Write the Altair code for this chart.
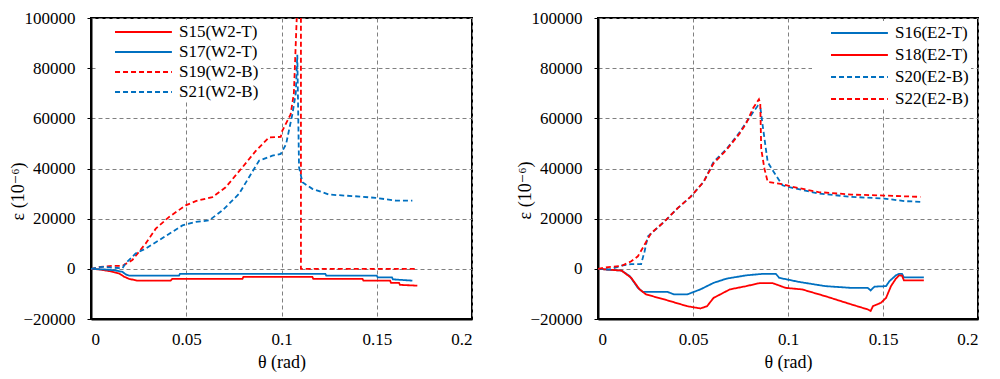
import altair as alt
import pandas as pd

# ---- Left panel (W2) ----
s15_theta = [0, 0.005, 0.0094, 0.0147, 0.0173, 0.020, 0.0243, 0.0418, 0.0427, 0.0795, 0.0800, 0.1162, 0.1167, 0.1425, 0.1430, 0.157, 0.1575, 0.1617, 0.1622, 0.1713]
s15_eps = [0, -300, -870, -1800, -3100, -4000, -4700, -4700, -4000, -4000, -3200, -3200, -4000, -4000, -4700, -4700, -5600, -5600, -6400, -6700]

s17_theta = [0, 0.008, 0.0125, 0.0165, 0.0182, 0.020, 0.0462, 0.0467, 0.123, 0.1235, 0.150, 0.1505, 0.158, 0.1585, 0.1687]
s17_eps = [0, -300, -600, -1200, -2200, -2700, -2700, -2000, -2000, -2700, -2700, -3400, -3400, -4200, -4700]

s19_theta = [0, 0.005, 0.011, 0.0165, 0.0217, 0.0287, 0.034, 0.041, 0.0497, 0.055, 0.0637, 0.0707, 0.0795, 0.0865, 0.0934, 0.0996, 0.1004, 0.1048, 0.1065, 0.1080, 0.1102, 0.1102, 0.1713]
s19_eps = [0, 800, 1200, 1200, 3500, 10100, 16000, 20700, 25300, 27000, 28600, 32500, 40500, 47000, 52400, 52600, 55000, 61600, 70000, 100000, 100000, 0, 0]

s21_theta = [0, 0.006, 0.0165, 0.0182, 0.0234, 0.0287, 0.0357, 0.048, 0.055, 0.062, 0.069, 0.0777, 0.0882, 0.0952, 0.0996, 0.1024, 0.1057, 0.1075, 0.1083, 0.1092, 0.1110, 0.1162, 0.125, 0.1375, 0.1495, 0.160, 0.1687]
s21_eps = [0, 800, 200, 2200, 6100, 8100, 11400, 17300, 18700, 19300, 23300, 29900, 43100, 45100, 45800, 49700, 61600, 70000, 85300, 40500, 34500, 31900, 29600, 29000, 28300, 27200, 27200]

# ---- Right panel (E2) ----
s16_theta = [0, 0.0124, 0.0167, 0.021, 0.0236, 0.0366, 0.040, 0.047, 0.0539, 0.0608, 0.0677, 0.078, 0.0867, 0.0936, 0.0954, 0.1057, 0.1196, 0.1334, 0.142, 0.1435, 0.1455, 0.1516, 0.1533, 0.1568, 0.1585, 0.160, 0.161, 0.1715]
s16_eps = [0, -700, -2900, -7600, -9200, -9200, -10200, -10200, -8200, -5600, -3900, -2600, -2000, -2000, -3600, -5200, -6900, -7600, -7600, -8600, -7100, -6900, -5000, -2600, -2000, -2000, -3400, -3400]

s18_theta = [0, 0.0124, 0.0175, 0.0219, 0.0253, 0.0349, 0.047, 0.0539, 0.0574, 0.0608, 0.0694, 0.078, 0.085, 0.0919, 0.0988, 0.1074, 0.1196, 0.1334, 0.142, 0.1435, 0.1447, 0.149, 0.1516, 0.1542, 0.1568, 0.1585, 0.160, 0.161, 0.1715]
s18_eps = [0, -700, -3600, -8200, -10200, -12200, -14900, -15800, -14900, -11600, -8200, -6900, -5700, -5700, -7600, -8200, -10900, -14200, -16200, -16800, -14900, -13500, -11600, -6900, -3900, -2600, -2700, -4600, -4600]

s20_theta = [0, 0.006, 0.0124, 0.0175, 0.0227, 0.0245, 0.0262, 0.0349, 0.0418, 0.0487, 0.0556, 0.0608, 0.0677, 0.0746, 0.0816, 0.0841, 0.0855, 0.0867, 0.0893, 0.0919, 0.0971, 0.1023, 0.1161, 0.1334, 0.1507, 0.1614, 0.1697]
s20_eps = [0, -300, 1300, 1900, 1900, 6900, 12900, 18800, 24100, 28700, 34700, 42600, 47800, 54500, 62400, 65000, 64000, 57000, 42600, 39300, 33300, 32300, 30000, 28700, 28000, 27000, 26700]

s22_theta = [0, 0.0054, 0.0124, 0.0175, 0.021, 0.0245, 0.0279, 0.0349, 0.0418, 0.0487, 0.0556, 0.0608, 0.0677, 0.0746, 0.078, 0.0816, 0.0847, 0.0854, 0.0859, 0.0876, 0.0893, 0.0971, 0.1023, 0.1161, 0.1334, 0.1507, 0.1697]
s22_eps = [0, 700, 1200, 3000, 5000, 9600, 14200, 18800, 24100, 28700, 34700, 42000, 47500, 54000, 58000, 64000, 67600, 66000, 47800, 39900, 34700, 33700, 32700, 30600, 29600, 29200, 28700]

left_names = ["S15(W2-T)", "S17(W2-T)", "S19(W2-B)", "S21(W2-B)"]
right_names = ["S16(E2-T)", "S18(E2-T)", "S20(E2-B)", "S22(E2-B)"]
x_ticks = [0, 0.05, 0.1, 0.15, 0.2]
y_ticks = [-20000, 0, 20000, 40000, 60000, 80000, 100000]

RED = "#FF0000"
BLUE = "#0070C0"
SOLID = [1, 0]
DASH = [5, 3]


def frame(names, thetas, epss):
    rows = []
    for name, th, ep in zip(names, thetas, epss):
        for i, (t, e) in enumerate(zip(th, ep)):
            rows.append({"series": name, "theta": t, "eps": e, "idx": i})
    return pd.DataFrame(rows)


left_df = frame(left_names, [s15_theta, s17_theta, s19_theta, s21_theta],
                [s15_eps, s17_eps, s19_eps, s21_eps])
right_df = frame(right_names, [s16_theta, s18_theta, s20_theta, s22_theta],
                 [s16_eps, s18_eps, s20_eps, s22_eps])

FONT = "'Liberation Serif', 'Times New Roman', 'DejaVu Serif', serif"
# legend line symbol: a horizontal stroke starting right of the symbol slot centre
LINE_SYMBOL = "M0.78,0H7.1"

AX = dict(labelFont=FONT, labelFontSize=17, labelColor="black",
          titleFont=FONT, titleFontSize=18, titleFontWeight="normal", titleColor="black")


def panel(df, names, colors, dashes, width, lx, ly, rowpad, title_y):
    leg = dict(orient="none", legendX=lx, legendY=ly, title=None,
               symbolType=LINE_SYMBOL, symbolSize=324, symbolStrokeWidth=2,
               labelFont=FONT, labelFontSize=17, labelColor="black",
               fillColor="white", padding=2, rowPadding=rowpad,
               labelOffset=61, labelLimit=200)
    return alt.Chart(df).mark_line(strokeWidth=1.8, clip=True).encode(
        x=alt.X("theta:Q", scale=alt.Scale(domain=[0, 0.2], nice=False),
                axis=alt.Axis(values=x_ticks, format="~g", title="θ (rad)",
                              ticks=False, labelPadding=12, titlePadding=6, **AX)),
        y=alt.Y("eps:Q", scale=alt.Scale(domain=[-20000, 100000], nice=False),
                axis=alt.Axis(values=y_ticks, format="d", title="ε (10⁻⁶)",
                              tickSize=4, labelPadding=12, titlePadding=-5,
                              titleY=title_y, **AX)),
        color=alt.Color("series:N", scale=alt.Scale(domain=names, range=colors),
                        legend=alt.Legend(**leg)),
        strokeDash=alt.StrokeDash("series:N", scale=alt.Scale(domain=names, range=dashes),
                                  legend=alt.Legend(**leg)),
        order=alt.Order("idx:Q"),
    ).properties(width=width, height=301)


left = panel(left_df, left_names, [RED, BLUE, RED, BLUE], [SOLID, SOLID, DASH, DASH],
             381, 5, 2, 2, 173)
right = panel(right_df, right_names, [BLUE, RED, BLUE, RED], [SOLID, SOLID, DASH, DASH],
              380, 214, 3, 4, 172)

chart = alt.hconcat(left, right, spacing=42).resolve_scale(
    color="independent", strokeDash="independent"
).properties(
    padding={"left": 0, "top": 0, "right": 0, "bottom": 0}
).configure(
    font=FONT,
    style={"guide-label": {"font": FONT}, "guide-title": {"font": FONT}},
).configure_view(
    stroke="black", strokeWidth=2
).configure_axis(
    labelFont=FONT, titleFont=FONT,
    domainColor="black", domainWidth=2, tickColor="black", tickWidth=1,
    gridColor="#808080", gridDash=[4, 3], gridWidth=1,
)

chart.save("out.html", embed_options={"renderer": "svg", "actions": False})
